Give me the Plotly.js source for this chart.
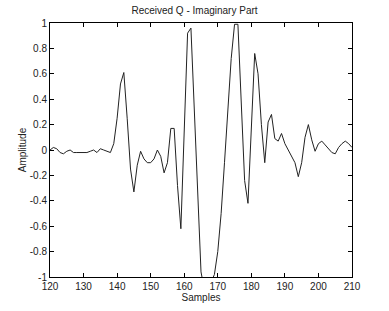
<!DOCTYPE html>
<html>
<head>
<meta charset="utf-8">
<script src="https://cdn.plot.ly/plotly-3.0.1.min.js"></script>
<style>html,body{margin:0;padding:0;background:#fff;}#chart{width:389px;height:311px;}</style>
</head>
<body>
<div id="chart"></div>
<script>
const samples = [];
for (let s = 120; s <= 210; s++) samples.push(s);
const amplitude = [
  0.0, 0.02, 0.01, -0.02, -0.03, -0.01, 0.0, -0.02, -0.02, -0.02,
  -0.02, -0.02, -0.01, 0.0, -0.02, 0.01, 0.0, -0.01, -0.02, 0.05,
  0.25, 0.52, 0.61, 0.25, -0.15, -0.33, -0.12, -0.01, -0.07, -0.1,
  -0.1, -0.07, 0.0, -0.05, -0.18, -0.1, 0.17, 0.17, -0.28, -0.62,
  0.15, 0.92, 0.96, 0.35, -0.3, -0.96, -1.1, -1.1, -1.04, -0.98,
  -0.8, -0.5, -0.1, 0.32, 0.72, 0.99, 0.99, 0.37, -0.24, -0.42,
  0.2, 0.76, 0.6, 0.2, -0.1, 0.22, 0.28, 0.09, 0.07, 0.13,
  0.05, 0.0, -0.05, -0.1, -0.21, -0.1, 0.1, 0.2, 0.08, -0.01,
  0.05, 0.07, 0.04, 0.01, -0.02, -0.03, 0.02, 0.05, 0.07, 0.05,
  0.02
];
const xTicks = [120,130,140,150,160,170,180,190,200,210];
const yTicks = [-1,-0.8,-0.6,-0.4,-0.2,0,0.2,0.4,0.6,0.8,1];
const yTickText = ['-1','-0.8','-0.6','-0.4','-0.2','0','0.2','0.4','0.6','0.8','1'];

const font = {family: 'Liberation Sans, Arial, sans-serif', size: 10, color: '#222'};
const axisCommon = {
  showgrid: false, zeroline: false, showline: true, linecolor: '#000', linewidth: 1,
  mirror: 'ticks', ticks: 'inside', ticklen: 4, tickcolor: '#000', tickwidth: 1,
  tickfont: font
};
Plotly.newPlot('chart', [{
  x: samples, y: amplitude, type: 'scatter', mode: 'lines',
  line: {color: '#222', width: 1}
}], {
  width: 389, height: 311,
  margin: {l: 50, r: 37, t: 23, b: 34},
  paper_bgcolor: '#fff', plot_bgcolor: '#fff',
  showlegend: false,
  font: font,
  title: {text: 'Received Q - Imaginary Part', font: font, x: 0.5, xanchor: 'center', y: 0.978, yanchor: 'top'},
  xaxis: Object.assign({}, axisCommon, {
    range: [120, 210], tickvals: xTicks, ticktext: xTicks.map(String),
    title: {text: 'Samples', font: font, standoff: 2}
  }),
  yaxis: Object.assign({}, axisCommon, {
    range: [-1, 1], tickvals: yTicks, ticktext: yTickText,
    title: {text: 'Amplitude', font: font, standoff: 1}
  })
}, {staticPlot: true, displayModeBar: false});
</script>
</body>
</html>
